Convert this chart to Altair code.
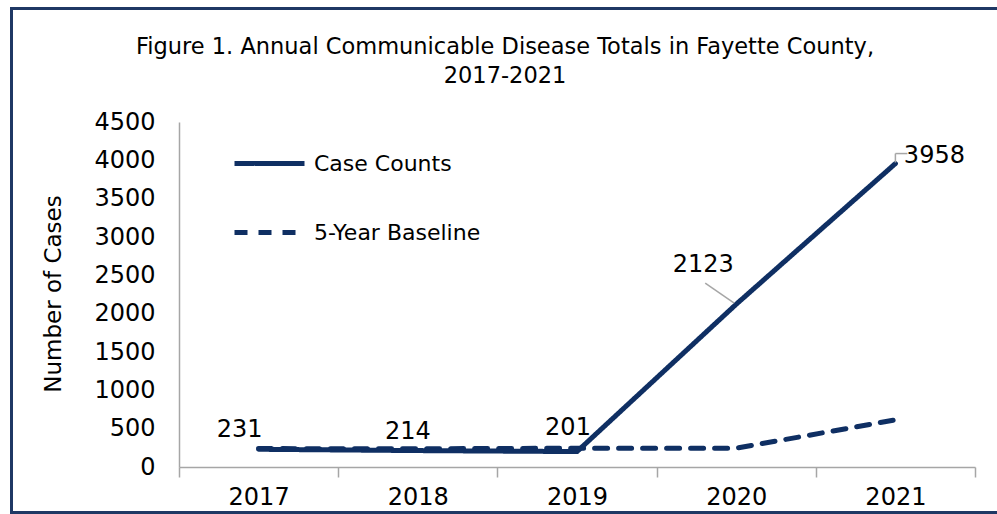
import altair as alt
import pandas as pd

# ---- data ----
years = [2017, 2018, 2019, 2020, 2021]
case_counts = [231, 214, 201, 2123, 3958]
baseline = [240, 238, 245, 245, 615]
series_names = ["Case Counts", "5-Year Baseline"]
y_ticks = [0, 500, 1000, 1500, 2000, 2500, 3000, 3500, 4000, 4500]
title_lines = ["Figure 1. Annual Communicable Disease Totals in Fayette County,", "2017-2021"]

# ---- layout constants ----
W, H = 796, 345
PAD = {"left": 179, "top": 122, "right": 22, "bottom": 47}
X_DOMAIN = [2016.5, 2021.5]
Y_DOMAIN = [0, 4500]
PX_PER_YEAR = W / (X_DOMAIN[1] - X_DOMAIN[0])
PX_PER_CASE = H / (Y_DOMAIN[1] - Y_DOMAIN[0])
NAVY = "#0f2f63"
GRAY = "#a6a6a6"
FONT = "DejaVu Sans"

df = pd.DataFrame(
    {
        "year": years * 2,
        "value": case_counts + baseline,
        "series": [series_names[0]] * len(years) + [series_names[1]] * len(years),
    }
)
cases_df = pd.DataFrame({"year": years, "value": case_counts})

x_scale = alt.Scale(domain=X_DOMAIN, nice=False, zero=False)
y_scale = alt.Scale(domain=Y_DOMAIN, nice=False)
dash_scale = alt.Scale(domain=series_names, range=[[1, 0], [13, 11]])

x_axis = alt.Axis(
    title=None,
    values=[2016.5, 2017.5, 2018.5, 2019.5, 2020.5, 2021.5],
    labelExpr="datum.value < 2021 ? toString(datum.value + 0.5) : ''",
    labelOffset=PX_PER_YEAR / 2,
    labelFont=FONT,
    labelFontSize=24,
    labelColor="black",
    labelPadding=20,
    labelBaseline="middle",
    labelFlush=False,
    labelOverlap=False,
    labelBound=False,
    tickSize=10,
    tickColor=GRAY,
    tickWidth=1.5,
    domainColor=GRAY,
    domainWidth=1.5,
    grid=False,
)
y_axis = alt.Axis(
    title="Number of Cases",
    values=y_ticks,
    format="d",
    ticks=False,
    tickSize=0,
    labelFont=FONT,
    labelFontSize=24,
    labelColor="black",
    labelPadding=24,
    labelOverlap=False,
    labelBound=False,
    labelFlush=False,
    domainColor=GRAY,
    domainWidth=1.5,
    grid=False,
    titleFont=FONT,
    titleFontSize=23,
    titleFontWeight="normal",
    titleColor="black",
    titleAngle=270,
    titleAlign="center",
    titleBaseline="middle",
    titleX=-126,
    titleY=171.5,
)


def X(field):
    return alt.X(field, scale=x_scale, axis=x_axis)


def Y(field):
    return alt.Y(field, scale=y_scale, axis=y_axis)


legend = alt.Legend(
    title=None,
    orient="none",
    legendX=53,
    legendY=4,
    symbolType="stroke",
    symbolSize=4900,
    symbolStrokeWidth=5,
    symbolStrokeColor=NAVY,
    labelFont=FONT,
    labelFontSize=22,
    labelColor="black",
    labelOffset=7,
    labelLimit=300,
    rowPadding=20,
    padding=0,
)

base = alt.Chart(df)

line_base = base.transform_filter(alt.datum.series == series_names[1]).mark_line(
    color=NAVY, strokeWidth=5, strokeCap="round", strokeJoin="round"
).encode(
    x=X("year:Q"),
    y=Y("value:Q"),
    strokeDash=alt.StrokeDash("series:N", scale=dash_scale, legend=legend),
)
line_cases = base.transform_filter(alt.datum.series == series_names[0]).mark_line(
    color=NAVY, strokeWidth=5, strokeCap="round", strokeJoin="round"
).encode(
    x=X("year:Q"),
    y=Y("value:Q"),
    strokeDash=alt.StrokeDash("series:N", scale=dash_scale, legend=legend),
)

# data labels, each with its own offset (as in the reference)
label_offsets = [(-19, -19), (-10, -19), (-9, -24), (-33, -39), (39, -8)]
label_layers = []
for yr, (ddx, ddy) in zip(years, label_offsets):
    label_layers.append(
        alt.Chart(cases_df)
        .transform_filter(alt.datum.year == yr)
        .mark_text(
            font=FONT, fontSize=24, color="black", dx=ddx, dy=ddy,
            align="center", baseline="middle",
        )
        .encode(x=X("year:Q"), y=Y("value:Q"), text="value:Q")
    )

# leader lines (pixel deltas from the data point converted into data units)
def leader(yr, dx1, dy1, dx2, dy2):
    return (
        alt.Chart(cases_df)
        .transform_filter(alt.datum.year == yr)
        .transform_calculate(
            xa=f"datum.year + {dx1 / PX_PER_YEAR}",
            ya=f"datum.value - {dy1 / PX_PER_CASE}",
            xb=f"datum.year + {dx2 / PX_PER_YEAR}",
            yb=f"datum.value - {dy2 / PX_PER_CASE}",
        )
        .mark_rule(color=GRAY, strokeWidth=1.5)
        .encode(x=X("xa:Q"), y=Y("ya:Q"), x2="xb:Q", y2="yb:Q")
    )

leaders = [
    leader(2020, -31, -21, -2, -1),
    leader(2021, 0, -1, 0, -10),
    leader(2021, 0, -10, 12, -10),
]

frame = (
    alt.Chart(pd.DataFrame({"k": [0]}))
    .mark_rect(filled=False, stroke="#1f3864", strokeWidth=3)
    .encode(
        x=alt.value(11.5 - PAD["left"]),
        x2=alt.value(1200 - PAD["left"]),
        y=alt.value(8.5 - PAD["top"]),
        y2=alt.value(512.5 - PAD["top"]),
    )
)

chart = (
    alt.layer(frame, line_base, line_cases, *leaders, *label_layers)
    .properties(
        width=W,
        height=H,
        padding=PAD,
        background="white",
        autosize=alt.AutoSizeParams(type="none"),
        title=alt.TitleParams(
            text=title_lines,
            font=FONT,
            fontSize=22.5,
            fontWeight="normal",
            color="black",
            anchor="middle",
            lineHeight=29,
            baseline="bottom",
            offset=36,
            dy=139,
            dx=-72,
        ),
    )
    .configure_view(stroke=None)
)

chart.save("out.html", embed_options={"renderer": "svg", "actions": False})
